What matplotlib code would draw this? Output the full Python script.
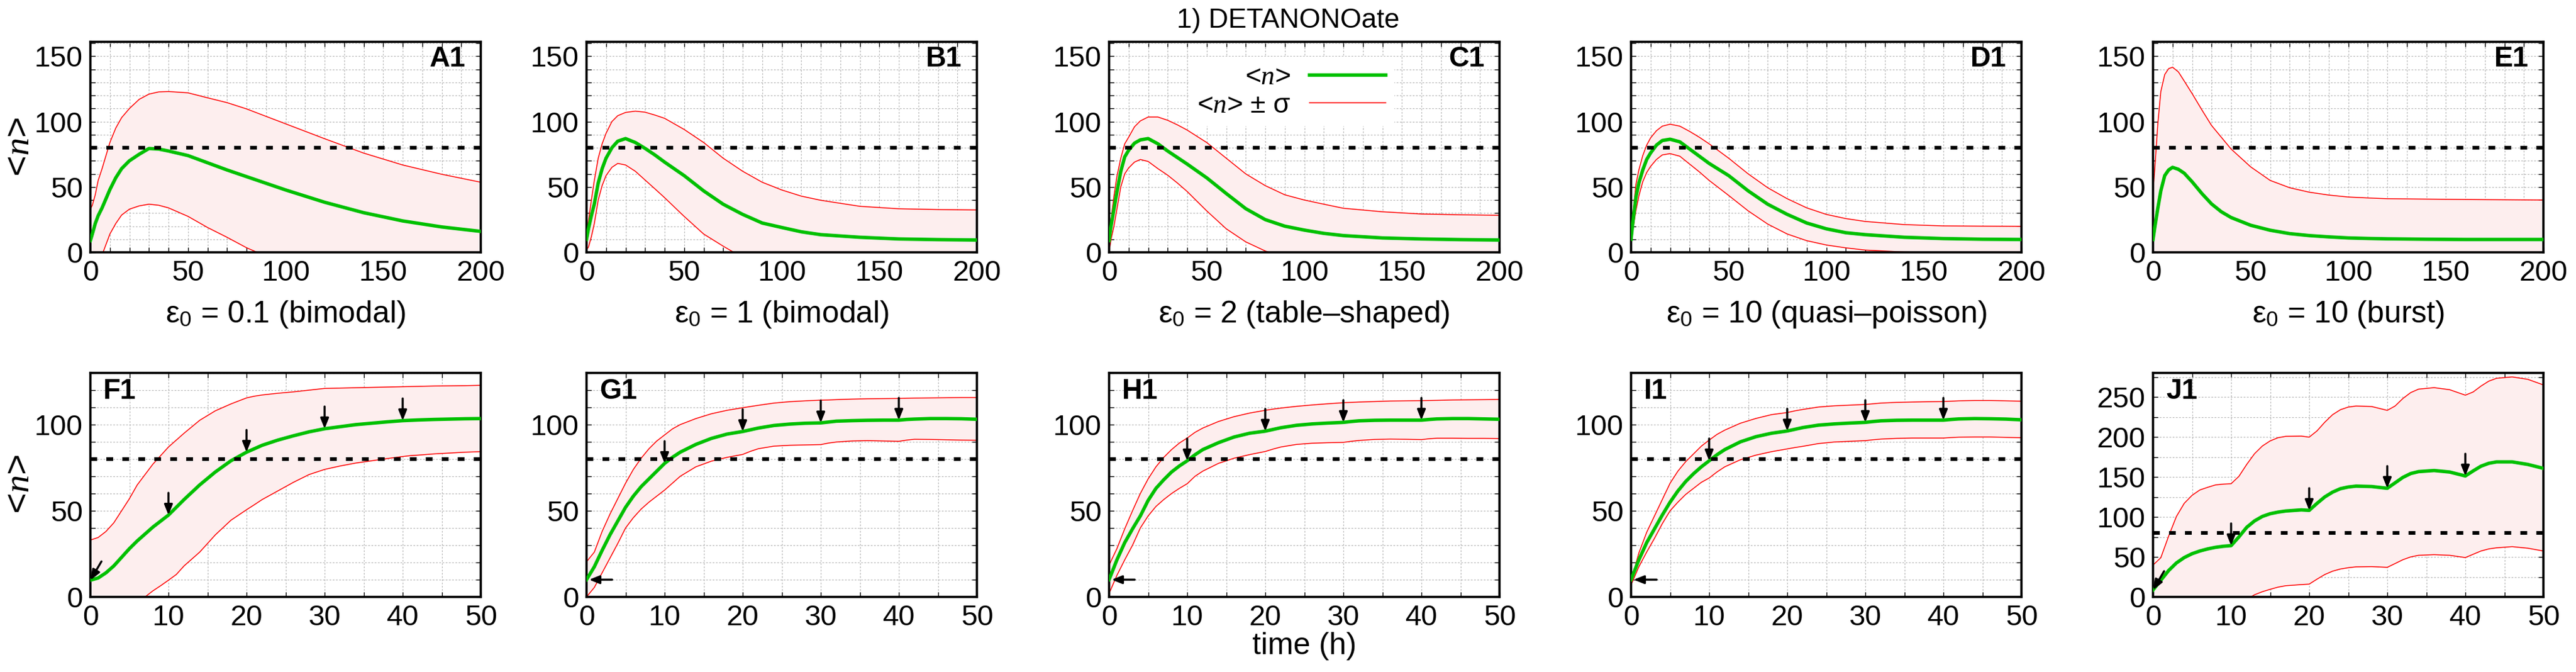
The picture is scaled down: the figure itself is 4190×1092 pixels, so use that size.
import numpy as np
import matplotlib.pyplot as plt
from matplotlib.ticker import MultipleLocator

plt.rcParams['font.family'] = ['Liberation Sans Narrow', 'Liberation Sans', 'DejaVu Sans']
plt.rcParams['mathtext.fontset'] = 'custom'
plt.rcParams['mathtext.rm'] = 'Liberation Sans'
plt.rcParams['mathtext.it'] = 'Liberation Serif:italic'
plt.rcParams['mathtext.bf'] = 'Liberation Sans:bold'

GREEN = '#00c000'
RED = '#ff0000'
FILL = '#fdeeee'
GRID = '#b8b8b8'

# ---- top row: time axis 0..200 ----
T_TOP = [0, 1, 2.5, 4, 6, 8, 10, 13, 16, 20, 25, 30, 35, 40, 50, 60, 70, 80, 90,
         100, 110, 120, 140, 160, 180, 200]

A1_MEAN = [9, 14, 22, 28, 34, 41, 48, 57, 64, 70, 75, 79.4, 79, 77.5, 74, 68.5, 63, 57.9,
           52.8, 47.7, 43, 38.3, 30.3, 24, 19.4, 16]
A1_UP = [33, 36, 44, 55, 64, 74, 84, 95, 103, 110, 117, 121, 122.7, 123, 122, 118.2, 114.5,
         109.7, 104, 98.3, 92.6, 86.9, 75.9, 66.8, 59.7, 53.6]
A1_LO = [-15, -9, -6, -4, -2, 6, 14, 22, 28.5, 33, 35.5, 36.8, 36, 34, 27.5, 19, 11.5, 3.5,
         -3, -8, -10, -12, -15, -18, -20, -22]

B1_MEAN = [10, 18, 28, 37, 53, 64, 72, 80, 85, 87, 84, 79.5, 74.5, 69, 58.7, 47, 36.8, 29,
           22.4, 19, 15.7, 13.5, 11.5, 10.2, 9.7, 9.4]
B1_UP = [12, 24, 40, 55, 72, 83, 91, 100, 104.5, 107, 108, 107.2, 105, 102.5, 94, 84, 72, 62,
         53.6, 47.7, 43, 39.8, 35.2, 33.3, 32.7, 32.4]
B1_LO = [2, 4, 12, 22, 40, 51, 58.7, 65, 68, 66.8, 62, 55.3, 48.6, 41.8, 27.5, 14, 4.7, -4,
         -8, -10, -11, -12, -12.5, -13, -13.3, -13.6]

C1_MEAN = [9, 20, 33, 46, 62, 73, 78, 83.5, 86, 87, 83, 77.5, 72.5, 67.5, 57, 45, 33.4, 25,
           20, 17, 14.5, 12.8, 11, 10.2, 9.7, 9.4]
C1_UP = [9, 25, 43, 58, 72, 83, 88, 96, 100.5, 103.5, 103.5, 101, 97.5, 93.5, 84, 72, 60, 51,
         44, 40, 36.8, 33.7, 31, 29.3, 28.7, 28.3]
C1_LO = [0, 10, 20, 33, 50, 60, 64.5, 69, 71, 69.5, 64, 59, 53, 46.5, 31.7, 18, 8, 1,
         -4, -6, -7.5, -8, -9, -9, -9.3, -9.5]

D1_MEAN = [10, 24, 42, 53, 63, 71, 76, 82, 85.5, 86.5, 84.5, 79, 73.5, 68, 58.7, 47, 36.8,
           29, 22.4, 18, 15, 13.5, 11.5, 10.5, 10, 9.8]
D1_UP = [10, 30, 52, 63, 74, 82, 87.5, 93, 96.5, 98, 96.5, 92.5, 88, 83, 72, 60, 49.4, 41,
         34, 29, 25.8, 23.6, 21.2, 20.2, 20, 19.9]
D1_LO = [10, 18, 32, 43, 54, 61, 65.7, 71, 74.5, 75.5, 73.5, 67.5, 61.5, 55, 43.5, 31.7,
         21.6, 14, 8.9, 5.6, 3.4, 1.7, 0.2, -0.3, -0.3, -0.3]

E1_MEAN = [9.8, 20, 34, 47, 58.7, 63, 65, 63.5, 60.5, 54, 45, 37, 31, 26.6, 20.7, 16.9,
           14.3, 12.8, 11.8, 11, 10.6, 10.3, 10, 9.8, 9.8, 9.8]
E1_UP = [45, 66, 99, 123, 136, 140.5, 141.6, 138, 131, 121.5, 109, 97, 88, 79, 65.4, 55,
         49.4, 46, 43.8, 42.3, 41.6, 41, 40.7, 40.4, 40.2, 40]
E1_LO = [-25, -25, -30, -30, -20, -14, -11, -11, -10, -12, -18, -23, -26, -26, -24, -21,
         -21, -20, -20, -20, -20, -20, -20, -21, -21, -21]

TOP_LABELS = ['A1', 'B1', 'C1', 'D1', 'E1']
TOP_SUBTITLES = ['ε$_{0}$ = 0.1 (bimodal)', 'ε$_{0}$ = 1 (bimodal)',
                 'ε$_{0}$ = 2 (table–shaped)', 'ε$_{0}$ = 10 (quasi–poisson)',
                 'ε$_{0}$ = 10 (burst)']

# ---- bottom row: time axis 0..50 (h) ----
T_BOT = [0, 1, 2, 3, 4, 5, 6, 7, 8, 9, 10, 11, 12, 14, 16, 18, 20, 21, 22, 24, 26, 28, 30,
         31, 32, 34, 36, 38, 40, 41, 42, 44, 46, 48, 50]

F1_MEAN = [9.7, 11, 14, 18, 23, 28, 32.5, 36.5, 40.5, 44, 47.5, 52, 56.5, 65, 72.5, 79, 84,
           86, 88, 91, 93.5, 95.8, 97.6, 98.2, 98.8, 100, 100.8, 101.6, 102.3, 102.5, 102.7,
           103, 103.2, 103.4, 103.5]
F1_UP = [33, 34.5, 38, 43, 50, 57, 65, 71, 77, 82, 87, 91, 95, 102.5, 108, 112, 115.5, 116.5,
         117.2, 118.2, 119, 120, 121, 121.1, 121.2, 121.4, 121.6, 121.8, 122, 122.1, 122.2,
         122.4, 122.5, 122.6, 122.8]
F1_LO = [-13, -12, -10, -7, -4, -3, -1.5, 0, 3.5, 6.5, 9.7, 13, 18, 26, 36, 44.5, 50.6, 53.5,
         56.5, 61.5, 66.5, 71, 74, 75, 76, 77.7, 79, 80.3, 81.5, 82, 82.3, 83, 83.5, 84, 84.3]

G1_MEAN = [10, 17.5, 27, 36, 44, 52, 58.5, 64, 68.5, 73, 77.5, 81, 84, 88.5, 92, 94.5, 96, 97,
           98, 99.5, 100.3, 100.8, 101, 101.5, 102, 102.3, 102.5, 102.6, 102.6, 103, 103.2,
           103.5, 103.5, 103.4, 103.1]
G1_UP = [20.4, 26, 38, 48, 57, 66, 74, 80.5, 86, 90.5, 94, 97.5, 100, 103.5, 106.3, 108.3,
         109.8, 110.5, 111.2, 112.5, 113.3, 113.8, 114.2, 114.3, 114.5, 114.8, 115, 115.1,
         115.2, 115.3, 115.4, 115.5, 115.6, 115.7, 115.7]
G1_LO = [0, 5.5, 14, 22.5, 31, 40, 46, 51, 55, 58.5, 62, 66, 70, 75.5, 78.8, 81, 82.7, 84.5,
         86, 87.5, 88, 88.2, 88.4, 89.3, 89.9, 90.5, 90.7, 90.5, 90.3, 91, 91.5, 91.4, 91.2,
         91, 90.9]

H1_MEAN = [10, 21.5, 31.5, 39.5, 47, 56, 63, 68, 72.5, 76, 79, 82.5, 85.5, 89.5, 92.8, 95,
           96.2, 97.2, 98.2, 99.6, 100.4, 100.9, 101.3, 101.8, 102.2, 102.5, 102.6, 102.6,
           102.6, 103, 103.3, 103.5, 103.5, 103.3, 103.1]
H1_UP = [18.5, 28, 39.5, 50, 60, 68.5, 75.5, 81, 85.5, 89.3, 92.2, 95.5, 98, 101.8, 104.6,
         106.7, 108.3, 109, 109.6, 110.6, 111.4, 112.1, 112.7, 112.9, 113.1, 113.4, 113.7,
         113.8, 113.9, 114, 114.1, 114.3, 114.4, 114.5, 114.6]
H1_LO = [2, 12.5, 21.5, 30, 40, 47, 52.5, 56.5, 60, 63, 65.7, 70, 73, 77.5, 80.5, 82.6, 84.4,
         85.8, 87, 88.5, 89.2, 89.5, 89.7, 90.3, 90.8, 91.4, 91.6, 91.5, 91.3, 91.8, 92.1,
         92.1, 92, 92, 91.9]

I1_MEAN = [10, 21.5, 31.5, 39.5, 47.5, 55, 61.5, 67, 71.5, 75.5, 79, 82.5, 85.5, 90, 93, 95,
           96.3, 97.3, 98.3, 99.7, 100.4, 100.9, 101.3, 101.8, 102.2, 102.5, 102.6, 102.6,
           102.6, 103, 103.3, 103.5, 103.4, 103.2, 102.8]
I1_UP = [9, 25.5, 37.5, 47, 56.5, 66, 73, 78.5, 83, 87.5, 91, 94.3, 96.8, 100.8, 103.6, 105.8,
         107, 108, 108.8, 110.2, 110.9, 111.3, 111.7, 112.1, 112.5, 112.9, 113.1, 113.3,
         113.4, 113.6, 113.8, 114, 114, 113.8, 113.6]
I1_LO = [7, 17.5, 26, 34, 42.5, 50, 55, 59.5, 63, 66.5, 69, 72.5, 75.5, 79.6, 82.3, 84.3,
         85.9, 86.7, 87.4, 89, 89.9, 90.3, 90.7, 91.2, 91.6, 92, 92.2, 92.2, 92.2, 92.5, 92.7,
         92.8, 92.8, 92.6, 92.4]

# J1 has its own time grid (dose kinks every 10 h)
T_J = [0, 1, 2, 3, 4, 5, 6, 7, 8, 9, 10, 11, 12, 13, 14, 15, 16, 17, 19, 20, 21, 22, 23, 24,
       25, 26, 28, 30, 31, 32, 33, 34, 36, 38, 40, 41, 42, 43, 44, 46, 48, 50]
J1_MEAN = [8.7, 20.8, 33, 42.5, 49.2, 54, 57.4, 60, 62, 63.3, 64.1, 75, 87, 95, 100.6, 104,
           106, 107.4, 108.8, 108.2, 116.9, 125, 131, 135.3, 137.4, 138.5, 138, 135.8, 142.6,
           149.4, 154.2, 156.6, 158, 156.1, 151.2, 157.5, 163.4, 167, 168.8, 168.8, 165.6,
           160.7]
J1_UP = [39.8, 49, 76, 100.6, 117, 127, 133.7, 137, 140, 141, 141.5, 150.7, 165.6, 179, 188.6,
         195, 199, 200.7, 201, 199.7, 207.5, 218.4, 227.8, 234, 237.3, 238.6, 238, 233.2,
         238.6, 248, 255.4, 259.7, 261.6, 259, 252.2, 256.2, 263.5, 269.7, 273.3, 275, 272,
         265]
J1_LO = [-22, -8, -10, -15, -18, -19, -19, -17, -16, -14, -13, -8, -3, 2.7, 6.5, 9.5, 12.2,
         14, 15.4, 16, 22.2, 28, 32.2, 34.9, 36.5, 37.6, 37.9, 37, 41.7, 46.5, 50, 52, 52.8,
         52, 49.2, 53.3, 57.4, 60, 61.4, 62.8, 60.9, 57.4]

BOT_LABELS = ['F1', 'G1', 'H1', 'I1', 'J1']
DOSE_TIMES = [10, 20, 30, 40]
THRESHOLD = 80

top_series = [(A1_MEAN, A1_UP, A1_LO), (B1_MEAN, B1_UP, B1_LO), (C1_MEAN, C1_UP, C1_LO),
              (D1_MEAN, D1_UP, D1_LO), (E1_MEAN, E1_UP, E1_LO)]
bot_series = [(T_BOT, F1_MEAN, F1_UP, F1_LO), (T_BOT, G1_MEAN, G1_UP, G1_LO),
              (T_BOT, H1_MEAN, H1_UP, H1_LO), (T_BOT, I1_MEAN, I1_UP, I1_LO),
              (T_J, J1_MEAN, J1_UP, J1_LO)]
# first-dose arrow: diagonal (F1, J1) or horizontal (G1, H1, I1)
first_arrow = ['diag', 'horiz', 'horiz', 'horiz', 'diag']

W, H = 4190, 1092
fig = plt.figure(figsize=(W / 100, H / 100), dpi=100)

col_left = [147, 954, 1804, 2653, 3502]
col_w = 635


def make_axes(left, top, bottom):
    return fig.add_axes([left / W, 1 - bottom / H, col_w / W, (bottom - top) / H])


def style_axes(ax):
    ax.set_axisbelow(True)
    ax.grid(which='both', color=GRID, linestyle=(0, (2.2, 2.0)), linewidth=0.9)
    ax.tick_params(which='both', direction='in', top=True, right=True, length=6,
                   width=1.0, labelsize=34, pad=9)
    for sp in ax.spines.values():
        sp.set_linewidth(2.6)


def draw_band(ax, t, mean, up, lo):
    ax.fill_between(t, lo, up, color=FILL, lw=0, zorder=1)
    ax.plot(t, up, color=RED, lw=1.1, zorder=2)
    l_sig, = ax.plot(t, lo, color=RED, lw=1.1, zorder=2)
    l_mean, = ax.plot(t, mean, color=GREEN, lw=4, zorder=3)
    ax.axhline(THRESHOLD, color='k', lw=4.3, linestyle=(0, (1.85, 2.5)),
               dash_capstyle='butt', zorder=4)
    return l_mean, l_sig


arrow_kw = dict(arrowstyle='-|>,head_length=0.5,head_width=0.2', color='k',
                lw=2.4, shrinkA=0, shrinkB=0, mutation_scale=20)

for i in range(5):
    ax = make_axes(col_left[i], 68, 410)
    style_axes(ax)
    mean, up, lo = top_series[i]
    l_mean, l_sig = draw_band(ax, T_TOP, mean, up, lo)
    ax.set_xlim(0, 200)
    ax.set_ylim(0, 161)
    ax.xaxis.set_major_locator(MultipleLocator(50))
    ax.xaxis.set_minor_locator(MultipleLocator(10))
    ax.yaxis.set_major_locator(MultipleLocator(50))
    ax.yaxis.set_minor_locator(MultipleLocator(10))
    ax.text(0.962, 0.918, TOP_LABELS[i], transform=ax.transAxes, ha='right',
            va='center', fontsize=33, fontweight='bold', zorder=6)
    ax.text(0.5, -0.295, TOP_SUBTITLES[i], transform=ax.transAxes, ha='center',
            va='center', fontsize=36)
    if i == 2:
        leg = ax.legend([l_mean, l_sig], ['<$n$>', '<$n$> ± σ'], loc='upper center',
                        bbox_to_anchor=(0.467, 0.995), markerfirst=False, fontsize=32,
                        handlelength=2.8, handletextpad=0.7, labelspacing=0.1,
                        borderpad=0.3, frameon=True, fancybox=False)
        leg.get_frame().set_facecolor('white')
        leg.get_frame().set_edgecolor('none')
        leg.get_frame().set_alpha(1)
        leg.set_zorder(5)

for i in range(5):
    ax = make_axes(col_left[i], 606, 970)
    style_axes(ax)
    t, mean, up, lo = bot_series[i]
    draw_band(ax, t, mean, up, lo)
    ax.set_xlim(0, 50)
    ax.xaxis.set_major_locator(MultipleLocator(10))
    ax.xaxis.set_minor_locator(MultipleLocator(5))
    ax.yaxis.set_major_locator(MultipleLocator(50))
    if i == 4:
        ax.set_ylim(0, 280)
        ax.yaxis.set_minor_locator(MultipleLocator(25))
    else:
        ax.set_ylim(0, 130)
        ax.yaxis.set_minor_locator(MultipleLocator(10))
    # dose arrows pointing at the mean curve
    for td in DOSE_TIMES:
        ax.annotate('', xy=(td, np.interp(td, t, mean)), xytext=(0, 26),
                    textcoords='offset points', arrowprops=arrow_kw, zorder=5)
    if first_arrow[i] == 'diag':
        ax.annotate('', xy=(t[0], mean[0]), xytext=(13, 22), textcoords='offset points',
                    arrowprops=arrow_kw, annotation_clip=False, zorder=5)
    else:
        ax.annotate('', xy=(t[0], mean[0]), xytext=(30, 0), textcoords='offset points',
                    arrowprops=dict(arrow_kw, shrinkB=3), annotation_clip=False, zorder=5)
    ax.text(0.033, 0.918, BOT_LABELS[i], transform=ax.transAxes, ha='left',
            va='center', fontsize=33, fontweight='bold', zorder=6)
    if i == 2:
        ax.text(0.5, -0.22, 'time (h)', transform=ax.transAxes, ha='center',
                va='center', fontsize=36)

fig.text(32 / W, 1 - 239 / H, '<$n$>', rotation=90, ha='center', va='center', fontsize=42)
fig.text(32 / W, 1 - 787 / H, '<$n$>', rotation=90, ha='center', va='center', fontsize=42)
fig.text(0.5, 1 - 34 / H, '1) DETANONOate', ha='center', va='center', fontsize=32)

fig.savefig('out.png', dpi=100)
